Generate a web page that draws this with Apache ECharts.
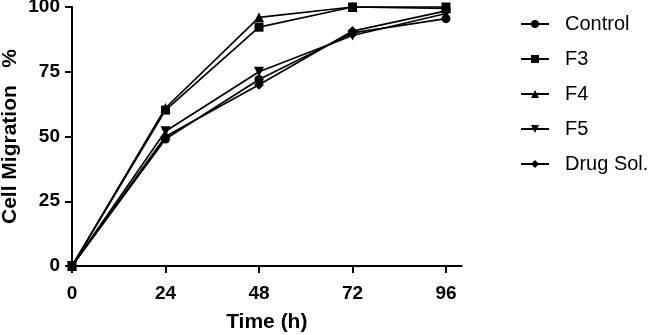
<!DOCTYPE html>
<html>
<head>
<meta charset="utf-8">
<script src="https://cdn.jsdelivr.net/npm/echarts@6/dist/echarts.min.js"></script>
<style>
  html, body { margin: 0; padding: 0; background: #fff; }
  #chart { width: 653px; height: 335px; }
</style>
</head>
<body>
<div id="chart"></div>
<script>
// time points (h)
const times = [0, 24, 48, 72, 96]
const xTicks = [0, 24, 48, 72, 96]

// cell migration %
const control = [0, 49, 72, 90, 95.5]
const f3 = [0, 60.2, 92.2, 100, 100]
const f4 = [0, 61, 96, 100, 99.5]
const f5 = [0, 52, 75, 89, 97.5]
const drugSol = [0, 50, 70, 90.7, 98.5]

const seriesNames = ['Control', 'F3', 'F4', 'F5', 'Drug Sol.']
const seriesData = [control, f3, f4, f5, drugSol]
const symbols = ['circle', 'rect', 'triangle', 'triangle', 'diamond']
const symbolRotates = [0, 0, 0, 180, 0]
const symbolSizes = [9, 9, 10, 10, 10]

const chart = echarts.init(document.getElementById('chart'))

const axisText = {
  color: '#000',
  fontFamily: 'Liberation Sans, Arial, sans-serif',
  fontWeight: 'bold',
  fontSize: 19
}

const option = {
  backgroundColor: '#fff',
  animation: false,
  grid: {
    left: 72,
    top: 7,
    width: 389.6,
    height: 259,
    containLabel: false,
    outerBoundsMode: 'none'
  },
  legend: {
    orient: 'vertical',
    left: 515,
    top: 9,
    itemWidth: 28,
    itemHeight: 10,
    itemGap: 15,
    data: seriesNames,
    textStyle: {
      color: '#000',
      fontFamily: 'Liberation Sans, Arial, sans-serif',
      fontSize: 20,
      padding: [0, 0, 0, 11]
    }
  },
  xAxis: {
    type: 'value',
    min: 0,
    max: 100,
    name: 'Time (h)',
    nameLocation: 'middle',
    nameGap: 46,
    nameMoveOverlap: false,
    nameTextStyle: { ...axisText, fontSize: 21 },
    axisLine: { lineStyle: { color: '#000', width: 2 } },
    axisTick: {
      show: true,
      length: 7,
      customValues: xTicks,
      lineStyle: { color: '#000', width: 2 }
    },
    axisLabel: {
      ...axisText,
      margin: 18,
      customValues: xTicks
    },
    splitLine: { show: false }
  },
  yAxis: {
    type: 'value',
    min: 0,
    max: 100,
    interval: 25,
    name: 'Cell Migration   %',
    nameLocation: 'middle',
    nameGap: 51,
    nameMoveOverlap: false,
    nameTextStyle: { ...axisText, fontSize: 21 },
    axisLine: { show: true, lineStyle: { color: '#000', width: 2 } },
    axisTick: { show: true, length: 7, lineStyle: { color: '#000', width: 2 } },
    axisLabel: { ...axisText, margin: 12 },
    splitLine: { show: false }
  },
  series: seriesNames.map((name, i) => ({
    name,
    type: 'line',
    data: times.map((t, j) => [t, seriesData[i][j]]),
    symbol: symbols[i],
    symbolSize: symbolSizes[i],
    symbolRotate: symbolRotates[i],
    lineStyle: { color: '#000', width: 1.7 },
    itemStyle: { color: '#000' },
    clip: false
  }))
}

chart.setOption(option)
</script>
</body>
</html>
